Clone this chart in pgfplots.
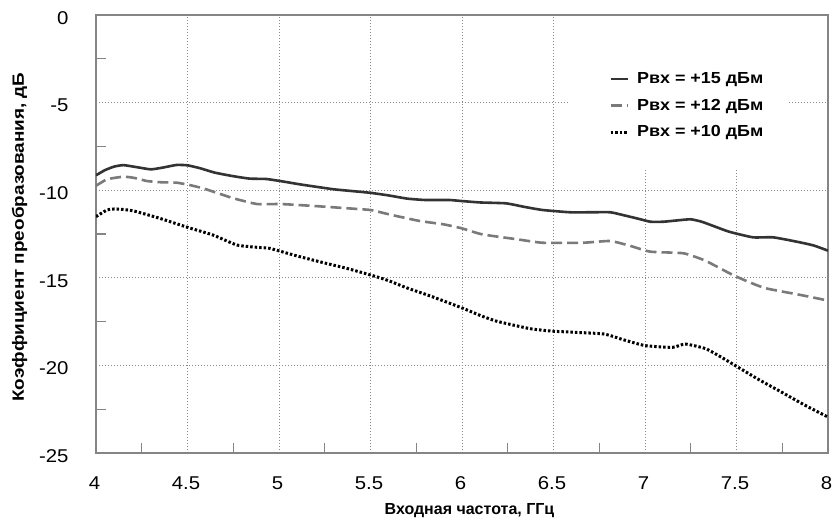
\documentclass[border=0pt]{standalone}
\usepackage{pgfplots}
\pgfplotsset{compat=1.18}
\usepackage{fontspec}
\setmainfont{Liberation Sans}
\newfontfamily\widefont{Liberation Sans}[FakeStretch=1.1]
\newfontfamily\legfont{Liberation Sans}[FakeStretch=1.12]
\newfontfamily\ylabfont{Liberation Sans}[FakeStretch=1.16]

\definecolor{axisgray}{HTML}{858585}
\definecolor{gridgray}{HTML}{8A8A8A}
\definecolor{solidgray}{HTML}{333333}
\definecolor{dashgray}{HTML}{7A7A7A}

\begin{document}
\begin{tikzpicture}
\begin{axis}[
  name=main,
  scale only axis,
  width=732pt,
  height=438pt,
  xmin=4, xmax=8,
  ymin=-25, ymax=0,
  xtick={4,4.5,...,8},
  ytick={-25,-20,...,0},
  minor x tick num=1,
  minor y tick num=1,
  major tick length=0pt,
  minor tick length=10pt,
  tick align=inside,
  xtick pos=bottom,
  ytick pos=left,
  axis line style={axisgray, line width=1.5pt},
  tick style={axisgray, line width=1.2pt},
  xmajorgrids=true,
  ymajorgrids=true,
  grid style={gridgray, line width=1pt, dash pattern=on 1pt off 2pt},
  /pgf/number format/assume math mode=true,
  tick label style={font=\widefont\fontsize{18.5}{20}\selectfont},
  xticklabel shift=20pt,
  xticklabel style={xshift=-1.5pt},
  yticklabel style={anchor=east, xshift=-24pt, yshift=-3pt},
  xlabel={Входная частота, ГГц},
  ylabel={Коэффициент преобразования, дБ},
  xlabel style={at={(rel axis cs:0.5102,-0.1393)}, anchor=base,
    font=\bfseries\fontsize{16}{18}\selectfont},
  ylabel style={at={(rel axis cs:-0.1045,0.493)}, anchor=center,
    font=\ylabfont\bfseries\fontsize{16.3}{18}\selectfont},
  legend cell align=left,
  legend style={
    at={(rel axis cs:0.7006,0.8735)}, anchor=north west,
    fill=none, draw=none, inner sep=0pt,
    row sep=10pt, column sep=6pt,
    font=\legfont\bfseries\fontsize{16}{18}\selectfont,
  },
]
% white area behind the legend (the grid is hidden there)
\fill[white] (rel axis cs:0.6475,0.646) rectangle (rel axis cs:0.9467,0.9965);
\addplot[solidgray, line width=2.6pt, smooth, tension=0.3] coordinates {
(4.00,-9.15) (4.05,-8.85) (4.10,-8.65) (4.15,-8.57) (4.22,-8.68) (4.30,-8.81)
(4.37,-8.70) (4.44,-8.56) (4.50,-8.58) (4.57,-8.75) (4.65,-9.00) (4.75,-9.20)
(4.84,-9.34) (4.93,-9.36) (5.02,-9.50) (5.11,-9.66) (5.20,-9.80) (5.30,-9.95)
(5.40,-10.05) (5.50,-10.15) (5.60,-10.30) (5.70,-10.48) (5.80,-10.56) (5.93,-10.56)
(6.00,-10.62) (6.10,-10.70) (6.24,-10.75) (6.34,-10.95) (6.44,-11.13) (6.59,-11.26)
(6.70,-11.26) (6.81,-11.26) (6.88,-11.42) (6.96,-11.62) (7.03,-11.80) (7.10,-11.80)
(7.18,-11.72) (7.25,-11.66) (7.31,-11.80) (7.36,-11.99) (7.46,-12.37) (7.59,-12.69)
(7.70,-12.69) (7.83,-12.94) (7.92,-13.15) (8.00,-13.45)
};
\addlegendentry{Рвх = +15 дБм}
\addplot[dashgray, line width=2.6pt, dash pattern=on 11pt off 5pt, smooth, tension=0.3] coordinates {
(4.00,-9.75) (4.06,-9.38) (4.15,-9.23) (4.21,-9.30) (4.28,-9.48) (4.36,-9.55)
(4.44,-9.57) (4.51,-9.70) (4.58,-9.88) (4.64,-10.08) (4.75,-10.46) (4.88,-10.79)
(5.01,-10.79) (5.19,-10.90) (5.37,-11.03) (5.50,-11.13) (5.57,-11.30) (5.64,-11.47)
(5.77,-11.76) (5.90,-11.95) (6.00,-12.18) (6.11,-12.52) (6.30,-12.80) (6.44,-13.00)
(6.66,-13.00) (6.81,-12.90) (6.92,-13.18) (7.03,-13.51) (7.21,-13.60) (7.32,-13.98)
(7.40,-14.40) (7.48,-14.84) (7.57,-15.25) (7.66,-15.60) (7.85,-15.98) (8.00,-16.30)
};
\addlegendentry{Рвх = +12 дБм}
\addplot[black, line width=3pt, dash pattern=on 2.5pt off 2pt, smooth, tension=0.3] coordinates {
(4.00,-11.51) (4.06,-11.13) (4.11,-11.07) (4.20,-11.17) (4.35,-11.61) (4.50,-12.12)
(4.64,-12.56) (4.77,-13.13) (4.88,-13.26) (4.95,-13.32) (5.08,-13.70) (5.22,-14.08)
(5.37,-14.46) (5.50,-14.84) (5.59,-15.13) (5.70,-15.58) (5.83,-16.05) (6.00,-16.72)
(6.10,-17.15) (6.19,-17.48) (6.37,-17.90) (6.50,-18.05) (6.77,-18.20) (6.88,-18.53)
(7.00,-18.87) (7.15,-18.97) (7.22,-18.78) (7.33,-19.04) (7.42,-19.55) (7.50,-20.05)
(7.62,-20.80) (7.74,-21.49) (7.87,-22.25) (8.00,-22.95)
};
\addlegendentry{Рвх = +10 дБм}
\end{axis}
\pgfresetboundingbox
\path ([shift={(-96pt,-66pt)}]main.south west) rectangle ([shift={(6pt,15pt)}]main.north east);
\end{tikzpicture}
\end{document}
